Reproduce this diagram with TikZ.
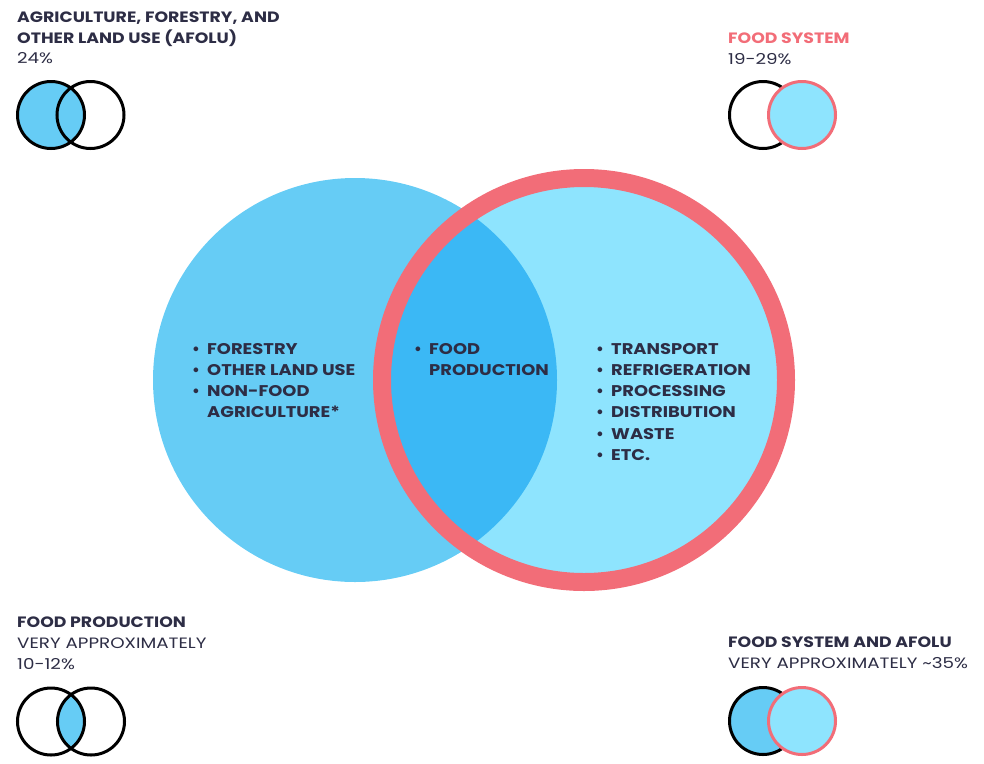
\documentclass[tikz,border=0pt]{standalone}
\usepackage{fontspec}
\setmainfont{Poppins}
\newfontfamily\titlefont{Poppins}[FakeStretch=1.155]
\newfontfamily\subfont{Poppins}[FakeStretch=1.22]
\definecolor{leftblue}{HTML}{66CCF5}
\definecolor{lightblue}{HTML}{8EE4FE}
\definecolor{midblue}{HTML}{3BB8F5}
\definecolor{ringred}{HTML}{F26D78}
\definecolor{ink}{HTML}{2D2D45}
\begin{document}
\begin{tikzpicture}[x=1pt,y=-1pt,
  title/.style={anchor=base west,inner sep=0pt,font=\titlefont\fontsize{15}{17}\selectfont\bfseries,text=ink},
  sub/.style={anchor=base west,inner sep=0pt,font=\subfont\fontsize{15}{17}\selectfont,text=ink},
  item/.style={anchor=base west,inner sep=0pt,font=\titlefont\fontsize{15.5}{17}\selectfont\bfseries,text=ink},
  dot/.style={anchor=base east,inner sep=0pt,font=\fontsize{15.5}{17}\selectfont\bfseries,text=ink},
  icon/.style={line width=3pt}]
\useasboundingbox (0,0) rectangle (984,763);
% main diagram
\coordinate (L) at (355,380);
\coordinate (R) at (584,380);
\fill[leftblue] (L) circle (202pt);
\fill[lightblue] (R) circle (202pt);
\begin{scope}
  \clip (L) circle (202pt);
  \fill[midblue] (R) circle (202pt);
\end{scope}
\draw[ringred,line width=18pt] (R) circle (202pt);
% left list
\node[dot] (b1) at (200,354) {•};
\node[item] (t1) at (207,354) {FORESTRY};
\node[dot] (b2) at (200,375.3) {•};
\node[item] (t2) at (207,375.3) {OTHER LAND USE};
\node[dot] (b3) at (200,396.6) {•};
\node[item] (t3) at (207,396.6) {NON-FOOD};
\node[item] (t4) at (207,417.9) {AGRICULTURE*};
% middle list
\node[dot] (b5) at (422,354) {•};
\node[item] (t5) at (429,354) {FOOD};
\node[item] (t6) at (429,375.3) {PRODUCTION};
% right list
\foreach \i/\t in {0/TRANSPORT,1/REFRIGERATION,2/PROCESSING,3/DISTRIBUTION,4/WASTE,5/ETC.}{
  \node[dot] (rb\i) at (604,354+21.3*\i) {•};
  \node[item] (rt\i) at (611,354+21.3*\i) {\t};
}
% top-left
\node[title] (tl1) at (17,22) {AGRICULTURE, FORESTRY, AND};
\node[title] (tl2) at (17,43) {OTHER LAND USE (AFOLU)};
\node[sub] (tl3) at (17,63.5) {24\%};
\coordinate (tla) at (51,115);
\coordinate (tlb) at (90.5,115);
\fill[leftblue] (tla) circle (33.5pt);
\draw[icon] (tla) circle (33.5pt);
\draw[icon] (tlb) circle (33.5pt);
% top-right
\node[title,text=ringred] (tr1) at (728,43) {FOOD SYSTEM};
\node[sub] (tr2) at (728,64) {19-29\%};
\coordinate (tra) at (763,115);
\coordinate (trb) at (802,115);
\draw[icon] (tra) circle (33.5pt);
\filldraw[icon,fill=lightblue,draw=ringred] (trb) circle (33.5pt);
% bottom-left
\node[title] (bl1) at (17,627) {FOOD PRODUCTION};
\node[sub] (bl2) at (17,648) {VERY APPROXIMATELY};
\node[sub] (bl3) at (17,669) {10-12\%};
\coordinate (bla) at (51,721.5);
\coordinate (blb) at (91,721.5);
\begin{scope}
  \clip (bla) circle (33.5pt);
  \fill[leftblue] (blb) circle (33.5pt);
\end{scope}
\draw[icon] (bla) circle (33.5pt);
\draw[icon] (blb) circle (33.5pt);
% bottom-right
\node[title] (br1) at (728,647) {FOOD SYSTEM AND AFOLU};
\node[sub] (br2) at (728,668) {VERY APPROXIMATELY \char"7E 35\%};
\coordinate (bra) at (763,721);
\coordinate (brb) at (802,721);
\filldraw[icon,fill=leftblue] (bra) circle (33.5pt);
\filldraw[icon,fill=lightblue,draw=ringred] (brb) circle (33.5pt);
\end{tikzpicture}
\end{document}
